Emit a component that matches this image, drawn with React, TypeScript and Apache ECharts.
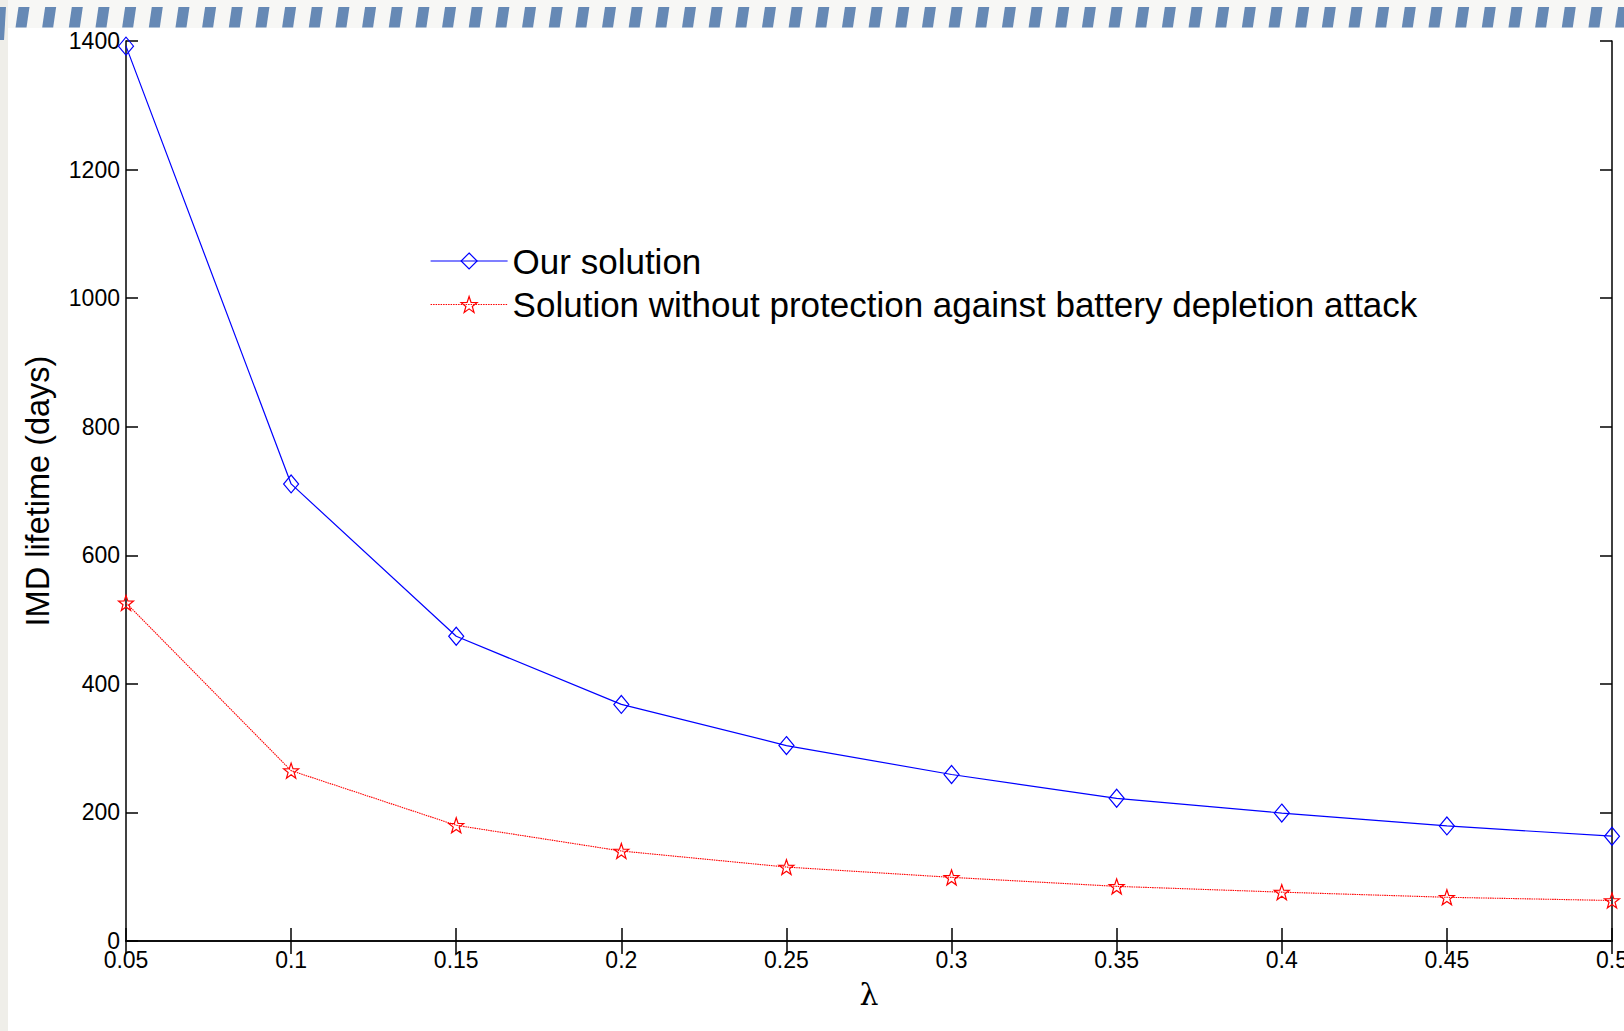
import React, { useEffect, useRef } from "react";
import * as echarts from "echarts";

const lambdas = ["0.05", "0.1", "0.15", "0.2", "0.25", "0.3", "0.35", "0.4", "0.45", "0.5"];
const ourSolution = [1392, 711, 474, 368, 304, 259, 222, 199, 179, 163];
const noProtection = [526, 265, 180, 140, 115, 99, 85, 76, 68, 63];
const yMin = 0;
const yMax = 1400;
const yInterval = 200;

const seriesNames = ["Our solution", "Solution without protection against battery depletion attack"];

const STAR =
  "path://M0,-10 L2.35,-3.24 L9.51,-3.09 L3.8,1.24 L5.88,8.09 L0,4 L-5.88,8.09 L-3.8,1.24 L-9.51,-3.09 L-2.35,-3.24 Z";

function buildDecor() {
  const els: any[] = [
    { type: "rect", z: -10, shape: { x: 0, y: 0, width: 1624, height: 28 }, style: { fill: "#f7f7f5" } },
    { type: "rect", z: -10, shape: { x: 0, y: 0, width: 8, height: 1031 }, style: { fill: "#efeee9" } },
    {
      type: "polygon",
      z: -9,
      shape: { points: [[0, 7], [6, 7], [4, 40], [0, 40]] },
      style: { fill: "#6689b5" },
    },
  ];
  const period = 26.66;
  for (let i = 0; i < 62; i++) {
    const x = 15.5 + i * period;
    els.push({
      type: "polygon",
      z: -9,
      shape: { points: [[x, 27.5], [x + 11, 27.5], [x + 14, 7], [x + 3, 7]] },
      style: { fill: "#6689b5" },
    });
  }
  return els;
}

export default function App() {
  const ref = useRef<HTMLDivElement>(null);
  useEffect(() => {
    if (!ref.current) return;
    const chart = echarts.init(ref.current, undefined, { renderer: "svg" });
    const font = "Liberation Sans, Arial, sans-serif";
    const axisLine = { show: true, lineStyle: { color: "#000", width: 1.5 } };
    chart.setOption({
      animation: false,
      backgroundColor: "#ffffff",
      graphic: buildDecor(),
      grid: { left: 126, top: 41, right: 12, bottom: 90, containLabel: false, outerBoundsMode: "none" },
      legend: {
        orient: "vertical",
        left: 425,
        top: 238.5,
        itemWidth: 77,
        itemHeight: 20,
        itemGap: 8.5,
        data: [
          {
            name: seriesNames[0],
            itemStyle: { color: "rgba(0,0,0,0)", borderColor: "#0000ff", borderWidth: 1.2 },
            lineStyle: { color: "#0000ff", width: 1.2, type: "solid" },
          },
          {
            name: seriesNames[1],
            itemStyle: { color: "rgba(0,0,0,0)", borderColor: "#ff0000", borderWidth: 1.2 },
            lineStyle: { color: "#ff0000", width: 1, type: [1.5, 1] },
          },
        ],
        textStyle: { fontFamily: font, fontSize: 35, color: "#000", lineHeight: 35 },
      },
      xAxis: [
        {
          type: "category",
          data: lambdas,
          boundaryGap: false,
          position: "bottom",
          name: "λ",
          nameLocation: "middle",
          nameGap: 38,
          nameTextStyle: { fontFamily: "DejaVu Serif, serif", fontSize: 30, color: "#000" },
          axisLine,
          axisTick: { show: true, inside: true, length: 13, lineStyle: { color: "#000", width: 1.5 } },
          axisLabel: { fontFamily: font, fontSize: 23, color: "#000", margin: 7 },
          splitLine: { show: false },
        },
        {
          type: "category",
          data: lambdas,
          boundaryGap: false,
          position: "top",
          axisLine,
          axisTick: { show: true, inside: true, length: 13, lineStyle: { color: "#000", width: 1.5 } },
          axisLabel: { show: false },
          splitLine: { show: false },
        },
      ],
      yAxis: [
        {
          type: "value",
          min: yMin,
          max: yMax,
          interval: yInterval,
          position: "left",
          name: "IMD lifetime (days)",
          nameLocation: "middle",
          nameGap: 72,
          nameTextStyle: { fontFamily: font, fontSize: 32.5, color: "#000" },
          axisLine,
          axisTick: { show: true, inside: true, length: 12, lineStyle: { color: "#000", width: 1.5 } },
          axisLabel: {
            fontFamily: font,
            fontSize: 23,
            color: "#000",
            margin: 6,
            formatter: (v: number) => String(v),
          },
          splitLine: { show: false },
        },
        {
          type: "value",
          min: yMin,
          max: yMax,
          interval: yInterval,
          position: "right",
          axisLine,
          axisTick: { show: true, inside: true, length: 12, lineStyle: { color: "#000", width: 1.5 } },
          axisLabel: { show: false },
          splitLine: { show: false },
        },
      ],
      series: [
        {
          name: seriesNames[0],
          type: "line",
          data: ourSolution,
          symbol: "diamond",
          symbolSize: [15, 18],
          lineStyle: { color: "#0000ff", width: 1.2 },
          itemStyle: { color: "rgba(0,0,0,0)", borderColor: "#0000ff", borderWidth: 1.2 },
          emphasis: { disabled: true },
          z: 3,
        },
        {
          name: seriesNames[1],
          type: "line",
          data: noProtection,
          symbol: STAR,
          symbolSize: [15, 15],
          lineStyle: { color: "#ff0000", width: 1.1, type: [1.5, 0.8] },
          itemStyle: { color: "rgba(0,0,0,0)", borderColor: "#ff0000", borderWidth: 1.2 },
          emphasis: { disabled: true },
          z: 3,
        },
      ],
    });
    return () => chart.dispose();
  }, []);
  return (
    <div
      ref={ref}
      style={{ position: "fixed", left: 0, top: 0, width: 1624, height: 1031, background: "#fff" }}
    />
  );
}
